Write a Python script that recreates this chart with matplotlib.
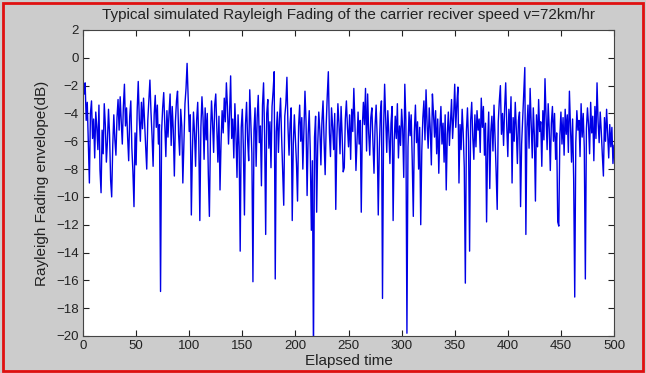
# plot.py
# Rayleigh fading envelope (dB) over 500 samples, MATLAB-style figure

import numpy as np
import matplotlib.pyplot as plt
from matplotlib.patches import Rectangle

TITLE = 'Typical simulated Rayleigh Fading of the carrier reciver speed v=72km/hr'
XLABEL = 'Elapsed time'
YLABEL = 'Rayleigh Fading envelope(dB)'

x_ticks = [0, 50, 100, 150, 200, 250, 300, 350, 400, 450, 500]
y_ticks = [-20, -18, -16, -14, -12, -10, -8, -6, -4, -2, 0, 2]

# envelope values, samples 1..500
envelope_db = [
    -2.6, -1.8, -4.5, -3.2, -6.1, -9.0, -4.0, -3.1, -5.8, -4.4,
    -7.2, -3.9, -5.0, -6.6, -3.4, -8.1, -9.7, -5.2, -6.9, -3.3,
    -4.8, -7.5, -6.0, -3.7, -5.5, -8.8, -10.0, -6.3, -4.1, -5.9,
    -7.0, -4.3, -3.0, -5.2, -2.8, -4.6, -6.2, -3.5, -1.9, -4.9,
    -3.6, -5.7, -7.4, -4.2, -3.1, -6.5, -8.2, -10.7, -5.4, -7.7,
    -3.8, -1.7, -4.4, -6.0, -3.2, -5.1, -2.9, -4.7, -6.4, -8.0,
    -4.5, -3.0, -1.6, -3.9, -5.6, -7.8, -4.1, -2.7, -5.0, -3.4,
    -6.2, -4.8, -16.8, -5.3, -3.6, -2.5, -4.9, -7.1, -3.8, -5.7,
    -4.0, -2.6, -6.3, -3.5, -5.2, -8.5, -4.6, -3.1, -2.4, -5.5,
    -7.0, -3.7, -4.9, -9.0, -6.1, -3.3, -2.2, -0.4, -2.9, -5.3,
    -4.1, -11.3, -6.7, -3.9, -5.4, -7.8, -4.5, -3.2, -6.0, -11.7,
    -5.0, -2.8, -4.3, -7.3, -3.6, -5.9, -4.0, -8.4, -11.4, -5.6,
    -3.1, -4.7, -6.8, -3.4, -2.6, -5.1, -7.5, -4.2, -9.5, -6.0,
    -3.8, -5.4, -2.9, -4.6, -1.8, -3.5, -6.2, -4.0, -1.3, -5.8,
    -4.4, -7.2, -3.3, -5.5, -8.6, -4.1, -6.4, -13.9, -5.0, -3.7,
    -6.6, -11.3, -4.8, -3.2, -5.9, -7.4, -2.3, -4.5, -6.9, -16.1,
    -5.2, -3.6, -7.8, -4.3, -2.7, -6.1, -4.9, -9.2, -3.4, -1.8,
    -5.6, -12.7, -4.0, -3.0, -6.5, -4.6, -7.9, -3.5, -2.4, -1.0,
    -15.9, -5.3, -3.9, -6.8, -4.4, -2.9, -5.7, -8.1, -10.6, -4.2,
    -3.3, -1.4, -5.0, -7.0, -4.7, -3.6, -11.7, -6.2, -4.1, -5.8,
    -7.6, -10.3, -4.9, -3.4, -6.0, -4.3, -8.0, -5.1, -2.4, -4.6,
    -9.9, -5.5, -3.8, -6.7, -12.4, -7.4, -21.5, -5.7, -4.2, -11.1,
    -6.3, -3.9, -5.2, -7.7, -4.5, -3.1, -6.0, -8.4, -4.8, -2.7,
    -1.0, -5.4, -7.1, -3.6, -4.9, -6.6, -4.0, -10.9, -5.8, -3.3,
    -4.7, -6.9, -3.5, -5.6, -8.2, -7.9, -4.4, -3.1, -5.0, -6.4,
    -4.1, -7.3, -3.7, -5.3, -2.2, -4.6, -8.1, -5.9, -3.9, -6.2,
    -4.5, -11.1, -5.0, -3.2, -4.8, -2.2, -6.7, -2.6, -5.4, -7.0,
    -4.3, -3.6, -6.1, -8.3, -4.9, -3.4, -5.7, -11.3, -6.5, -4.0,
    -3.1, -17.3, -5.2, -1.9, -4.4, -6.8, -3.8, -5.5, -7.6, -4.7,
    -3.5, -11.7, -6.0, -4.2, -5.8, -3.3, -7.2, -4.9, -6.3, -3.7,
    -5.1, -8.6, -1.9, -4.5, -19.8, -6.4, -3.9, -5.6, -4.1, -7.4,
    -11.4, -5.3, -3.4, -6.1, -4.6, -8.0, -5.0, -12.0, -6.7, -4.3,
    -3.1, -5.9, -2.3, -4.8, -6.5, -3.6, -5.2, -7.7, -2.6, -4.0,
    -5.7, -3.8, -6.9, -4.4, -8.3, -5.1, -3.5, -6.2, -4.7, -7.5,
    -4.1, -9.5, -5.5, -3.9, -6.3, -4.6, -3.0, -5.8, -4.2, -1.9,
    -5.0, -3.3, -2.1, -9.0, -4.8, -6.6, -3.7, -5.4, -7.9, -16.2,
    -5.3, -3.6, -6.0, -13.9, -4.5, -3.2, -5.7, -7.3, -4.1, -6.4,
    -3.8, -5.2, -4.4, -6.8, -2.9, -5.0, -3.5, -7.0, -4.7, -11.8,
    -6.1, -3.9, -9.4, -5.3, -4.2, -6.7, -3.4, -5.8, -8.2, -10.9,
    -4.6, -3.1, -2.0, -5.5, -4.0, -6.3, -3.6, -1.8, -4.9, -7.1,
    -3.7, -5.4, -2.8, -9.0, -4.3, -6.0, -3.2, -5.1, -7.6, -4.5,
    -3.9, -10.7, -6.2, -4.4, -2.5, -0.7, -12.7, -5.0, -3.4, -6.5,
    -2.2, -4.8, -7.2, -3.6, -5.6, -10.3, -4.1, -6.4, -3.0, -5.3,
    -4.6, -7.8, -3.8, -5.9, -1.5, -4.2, -6.6, -3.3, -5.1, -8.1,
    -4.7, -3.5, -6.0, -4.0, -7.3, -5.4, -11.8, -12.1, -5.6, -3.9,
    -6.2, -4.3, -7.0, -3.7, -5.5, -4.1, -6.8, -2.4, -5.0, -7.5,
    -4.4, -8.7, -17.2, -6.1, -3.8, -5.2, -4.5, -7.1, -3.3, -5.7,
    -4.0, -6.5, -15.9, -5.1, -3.6, -4.8, -6.9, -3.2, -5.4, -4.2,
    -7.4, -3.5, -5.8, -1.8, -4.6, -6.1, -3.9, -5.3, -7.0, -8.5,
    -4.3, -6.0, -3.7, -5.5, -7.2, -4.8, -6.4, -5.0, -7.6, -6.3,
]
samples = np.arange(1, len(envelope_db) + 1)

plt.rcParams['font.family'] = ['Liberation Sans', 'DejaVu Sans']

fig = plt.figure(figsize=(6.46, 3.73), dpi=100, facecolor='#cccccc')
# red frame round the whole figure
fig.patches.append(Rectangle((0.004, 0.006), 0.991, 0.985, transform=fig.transFigure,
                             fill=False, edgecolor='#e01010', linewidth=2))

ax = fig.add_axes([0.1285, 0.0992, 0.822, 0.8204])
ax.set_facecolor('white')
ax.plot(samples, envelope_db, color='#0000e6', linewidth=1.0)

ax.set_xlim(0, 500)
ax.set_ylim(-20, 2)
ax.set_xticks(x_ticks)
ax.set_yticks(y_ticks)
ax.tick_params(direction='in', length=4, width=0.8, top=True, right=True,
               labelsize=9.5, colors='#222222', pad=3)
for s in ax.spines.values():
    s.set_color('#444444')
    s.set_linewidth(0.8)

ax.set_title(TITLE, fontsize=11, color='#222222', pad=8)
ax.set_xlabel(XLABEL, fontsize=11, color='#222222', labelpad=1)
ax.set_ylabel(YLABEL, fontsize=11, color='#222222', labelpad=5)

fig.savefig('out.png', dpi=100, facecolor=fig.get_facecolor())
